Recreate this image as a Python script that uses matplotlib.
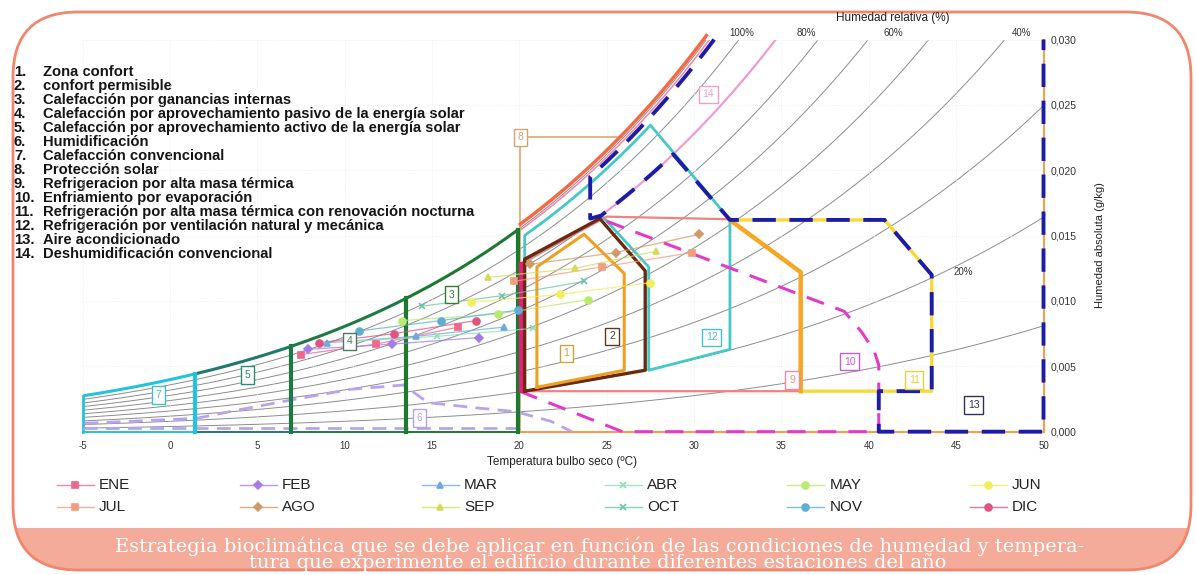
import numpy as np
import matplotlib.pyplot as plt
from matplotlib.patches import FancyBboxPatch, Rectangle
from matplotlib.ticker import FuncFormatter

plt.rcParams['font.family'] = ['Liberation Sans', 'DejaVu Sans']
plt.rcParams['axes.unicode_minus'] = False

P_ATM = 96.0      # presión atmosférica local (kPa)
W_MAX = 0.030

# Datos climáticos mensuales: puntos de mínima, media y máxima
months = ['ENE', 'FEB', 'MAR', 'ABR', 'MAY', 'JUN',
          'JUL', 'AGO', 'SEP', 'OCT', 'NOV', 'DIC']
t_min = [7.5, 7.9, 9.0, 10.3, 13.3, 17.2, 19.7, 20.6, 18.2, 14.4, 10.8, 8.5]
t_med = [11.8, 12.7, 14.1, 15.3, 18.8, 22.3, 24.7, 25.5, 23.2, 19.0, 15.5, 12.8]
t_max = [16.5, 17.7, 19.1, 20.8, 23.9, 27.5, 29.9, 30.3, 27.8, 23.7, 19.9, 17.5]
w_min = [0.0059, 0.0063, 0.0068, 0.0069, 0.0085, 0.0099, 0.0115, 0.0128, 0.0118, 0.0096, 0.0077, 0.0068]
w_med = [0.0067, 0.0067, 0.0073, 0.0073, 0.0090, 0.0105, 0.0126, 0.0137, 0.0125, 0.0104, 0.0085, 0.0075]
w_max = [0.0080, 0.0072, 0.0080, 0.0079, 0.0101, 0.0114, 0.0137, 0.0151, 0.0138, 0.0115, 0.0093, 0.0085]
month_colors = ['#f0668c', '#a57be8', '#6ea8e6', '#8ee0b4', '#bde86f', '#f2ee5c',
                '#f59c7c', '#d09a68', '#d2dc58', '#6cc4aa', '#5cb0d4', '#e05482']
month_markers = ['s', 'D', '^', 'x', 'o', 'o', 's', 'D', '^', 'x', 'o', 'o']

# Zonas del diagrama bioclimático (temperatura ºC, humedad absoluta kg/kg)
zone1_t = [21.0, 21.0, 23.7, 26.0, 26.0, 21.0]
zone1_w = [0.0034, 0.0126, 0.0151, 0.0121, 0.0047, 0.0034]
zone2_t = [20.3, 20.3, 24.6, 27.2, 27.2, 20.3]
zone2_w = [0.0031, 0.0132, 0.0163, 0.0123, 0.0047, 0.0031]
zone9_t = [20.1, 36.1, 36.1, 32.05, 25.0, 20.1, 20.1]
zone9_w = [0.0031, 0.0031, 0.0122, 0.01625, 0.01645, 0.0129, 0.0031]
zone11_t = [32.05, 40.9, 43.6, 43.6, 36.1]
zone11_w = [0.0162, 0.0162, 0.0120, 0.0031, 0.0031]
zone11_edge_t = [32.05, 36.1, 36.1]
zone11_edge_w = [0.0162, 0.0122, 0.0031]
zone12_t = [32.05, 32.05, 27.4, 27.4, 24.8, 20.3]
zone12_w = [0.0162, 0.0063, 0.0047, 0.0126, 0.0164, 0.0130]
zone12_peak_t = 27.5
zone10_t = [25.0, 38.6, 39.6, 40.3, 40.57, 40.57, 25.9, 20.0]
zone10_w = [0.0161, 0.0092, 0.0076, 0.0062, 0.0051, 0.0, 0.0, 0.0031]
zone13_t = [24.05, 24.6]
zone13_w = [0.0163, 0.0165]
zone13_rest_t = [32.05, 40.9, 43.6, 43.6, 40.57, 40.57, 50.0, 50.0]
zone13_rest_w = [0.0162, 0.0162, 0.0120, 0.0031, 0.0031, 0.0, 0.0, 0.030]
zone6_t = [-4.9, 1.5, 3.9, 6.9, 10.35, 13.36, 14.77, 17.7, 19.8, 21.8, 23.0]
zone6_w = [0.00064, 0.00102, 0.00166, 0.00242, 0.00324, 0.00357, 0.00222, 0.0018, 0.00153, 0.0008, 0.0]
heat_limits = [-5.0, 1.45, 6.95, 13.5, 19.9]
heat_colors = ['#22c3dc', '#1f7a6a', '#1e7a45', '#1b7a2e']

zone_ids = ['1', '2', '3', '4', '5', '6', '7', '8', '9', '10', '11', '12', '13', '14']
zone_lab_t = [22.7, 25.3, 16.1, 10.3, 4.45, 14.3, -0.65, 20.04, 35.6, 38.9, 42.6, 31.0, 46.0, 30.8]
zone_lab_w = [0.0060, 0.0073, 0.01048, 0.0069, 0.00434, 0.00105, 0.00281, 0.02253,
              0.00395, 0.00536, 0.00395, 0.00722, 0.00204, 0.0258]
zone_lab_colors = ['#c9a43a', '#5a3a20', '#2e7d32', '#4d7a5c', '#2a8a7a', '#b3a3e6', '#3cc0d0',
                   '#d9a070', '#f08a9a', '#c060d0', '#e6d040', '#45c3c3', '#303060', '#f0a0c8']

zone_names = ['Zona confort', 'confort permisible', 'Calefacción por ganancias internas',
              'Calefacción por aprovechamiento pasivo de la energía solar',
              'Calefacción por aprovechamiento activo de la energía solar',
              'Humidificación', 'Calefacción convencional', 'Protección solar',
              'Refrigeracion por alta masa térmica', 'Enfriamiento por evaporación',
              'Refrigeración por alta masa térmica con renovación nocturna',
              'Refrigeración por ventilación natural y mecánica',
              'Aire acondicionado', 'Deshumidificación convencional']

rh_levels = [0.1, 0.2, 0.3, 0.4, 0.5, 0.6, 0.7, 0.8, 0.9, 1.0]


def w_rh(t, rh):
    t = np.asarray(t, dtype=float)
    pws = 0.61078 * np.exp(17.27 * t / (t + 237.3))
    pw = rh * pws
    return 0.622 * pw / (P_ATM - pw)


def rh_curve(rh, t0, t1=50.0, n=150):
    t = np.linspace(t0, t1, n)
    w = w_rh(t, rh)
    if w[-1] > W_MAX:
        t_top = np.interp(W_MAX, w, t)
        t = np.linspace(t0, t_top, n)
        w = w_rh(t, rh)
    return t, w


fig = plt.figure(figsize=(11.96, 5.75), dpi=100)

# capa de fondo en píxeles para marco, textos y leyenda
bg = fig.add_axes([0, 0, 1, 1])
bg.set_xlim(0, 1196)
bg.set_ylim(575, 0)
bg.axis('off')
bg.set_zorder(0)

frame = FancyBboxPatch((13, 12), 1178, 558, boxstyle='round,pad=0,rounding_size=65',
                       fc='none', ec='#f2866c', lw=2.0, zorder=3)
band = FancyBboxPatch((13, 12), 1178, 558, boxstyle='round,pad=0,rounding_size=65',
                      fc='#f4ab99', ec='none', zorder=1)
bg.add_patch(band)
band.set_clip_path(Rectangle((0, 528), 1196, 48, transform=bg.transData))
bg.add_patch(frame)

bg.text(600, 546, 'Estrategia bioclimática que se debe aplicar en función de las condiciones '
        'de humedad y tempera-', ha='center', va='center', color='white',
        family='DejaVu Serif', fontsize=14, zorder=4)
bg.text(598, 563, 'tura que experimente el edificio durante diferentes estaciones del año',
        ha='center', va='center', color='white', family='DejaVu Serif', fontsize=14, zorder=4)

# lista de estrategias
for i, name in enumerate(zone_names):
    y = 72 + 14 * i
    bg.text(14, y, f'{i + 1}.', ha='left', va='center', fontsize=10.6,
            fontweight='bold', color='#151515')
    bg.text(43, y, name, ha='left', va='center', fontsize=10.6,
            fontweight='bold', color='#151515')

# rótulos de humedad relativa y ejes
bg.text(893, 18, 'Humedad relativa (%)', ha='center', va='center', fontsize=8.5, color='#222')
for lab, x in zip(['100%', '80%', '60%', '40%'], [742, 806, 893, 1022]):
    bg.text(x, 33, lab, ha='center', va='center', fontsize=7, color='#333')
bg.text(963, 272, '20%', ha='center', va='center', fontsize=7, color='#333')
bg.text(562, 462, 'Temperatura bulbo seco (ºC)', ha='center', va='center', fontsize=8.5, color='#222')
bg.text(1100, 245, 'Humedad absoluta (g/kg)', ha='center', va='center', rotation=90,
        fontsize=8, color='#222')

# leyenda mensual
for i, (m, c, mk) in enumerate(zip(months, month_colors, month_markers)):
    col, row = i % 6, i // 6
    x0 = 57 + 182.6 * col
    y = 485 + 21.7 * row
    bg.plot([x0, x0 + 37], [y, y], color=c, lw=1.0, alpha=0.8)
    bg.plot([x0 + 18], [y], marker=mk, color=c, ms=5 if mk != 'D' else 4, mew=1.2)
    bg.text(x0 + 42, y, m, ha='left', va='center', fontsize=11, color='#222')

# diagrama psicrométrico
ax = fig.add_axes([82.7 / 1196, 1 - 431.7 / 575, (1043.5 - 82.7) / 1196, (431.7 - 39.5) / 575])
ax.set_zorder(1)
ax.patch.set_visible(False)
ax.set_xlim(-5, 50)
ax.set_ylim(0, W_MAX)
for s in ax.spines.values():
    s.set_visible(False)
ax.set_xticks(np.arange(-5, 51, 5))
ax.set_yticks(np.arange(0, 0.0301, 0.005))
ax.yaxis.tick_right()
ax.yaxis.set_major_formatter(FuncFormatter(lambda v, p: f'{v:.3f}'.replace('.', ',')))
ax.tick_params(axis='x', length=0, labelsize=7, pad=7, labelcolor='#333')
ax.tick_params(axis='y', length=0, labelsize=7.5, pad=5, labelcolor='#333')
ax.grid(color='#ececec', lw=0.6, ls=':')

# curvas de humedad relativa
for rh in rh_levels:
    t, w = rh_curve(rh, -5.0)
    ax.plot(t, w, color='#8c8c8c', lw=0.7, zorder=1)

# zonas de calefacción (3, 4, 5, 7)
for k in range(4):
    t0, t1 = heat_limits[k], heat_limits[k + 1]
    t, w = rh_curve(1.0, t0, t1)
    ax.plot(t, w, color=heat_colors[k], lw=2.2, zorder=3, solid_capstyle='butt')
    ax.plot([t0, t1], [0, 0], color=heat_colors[k], lw=1.4, zorder=3, clip_on=False)
ax.plot([-5, -5], [0, w_rh(-5.0, 1.0)], color=heat_colors[0], lw=2.0, zorder=3, clip_on=False)
for k in range(1, 5):
    tk = heat_limits[k]
    ax.plot([tk, tk], [0, w_rh(tk, 1.0)], color=heat_colors[min(k, 3)] if k > 1 else heat_colors[0],
            lw=3.0, zorder=4, clip_on=False)

# zona 6: humidificación
ax.plot(zone6_t, zone6_w, color='#b9a3ea', lw=2.0, dashes=(5, 3), zorder=3)
ax.plot([-5, 20], [0.00025, 0.00025], color='#b9a3ea', lw=2.0, dashes=(5, 3), zorder=3, clip_on=False)

# zona 8: protección solar
t_sat, w_sat = rh_curve(1.0, 20.05)
ax.plot([20.04, 20.04], [0, zone_lab_w[7]], color='#e4a56a', lw=1.2, zorder=2, clip_on=False)
ax.plot([20.04, 25.85], [zone_lab_w[7], zone_lab_w[7]], color='#e4a56a', lw=1.2, zorder=2)
ax.plot([20, 50], [0, 0], color='#f0a050', lw=1.5, zorder=2, clip_on=False)
ax.plot([50, 50], [0, W_MAX], color='#f0a050', lw=1.5, zorder=2, clip_on=False)
ax.plot(t_sat, w_sat + 0.0003, color='#f26b45', lw=2.5, zorder=4, clip_on=False)
t98, w98 = rh_curve(0.99, 20.1)
ax.plot(t98, w98, color='#f08cb0', lw=1.2, zorder=4)

# zona 14: deshumidificación
t80, w80 = rh_curve(0.8, 24.6)
ax.plot(t80, w80, color='#f29ccc', lw=1.6, zorder=3)

# zona 12: ventilación
t95, w95 = rh_curve(0.95, zone12_t[-1], zone12_peak_t)
ax.plot(list(zone12_t) + list(t95) + [zone12_t[0]],
        list(zone12_w) + list(w95) + [zone12_w[0]], color='#45c8c8', lw=2.0, zorder=5)

# zona 9: masa térmica
ax.plot(zone9_t, zone9_w, color='#f08282', lw=1.6, zorder=5)

# zona 11: masa térmica con renovación nocturna
ax.plot(zone11_t, zone11_w, color='#f7d93a', lw=2.4, zorder=5)
ax.plot(zone11_edge_t, zone11_edge_w, color='#f5a623', lw=3.2, zorder=5)

# zona 10: enfriamiento evaporativo
ax.plot(zone10_t, zone10_w, color='#e03cc8', lw=2.2, dashes=(6, 4), zorder=6, clip_on=False)
ax.plot([20.1, 20.1], [0.0031, 0.0128], color='#e0207a', lw=3.0, zorder=6)

# zona 13: aire acondicionado
t_up, w_up = rh_curve(0.975, zone13_t[0])
t_mid, w_mid = rh_curve(0.8, zone13_t[1], 28.8)
z13_t = list(t_up[::-1]) + zone13_t + list(t_mid) + zone13_rest_t
z13_w = list(w_up[::-1]) + zone13_w + list(w_mid) + zone13_rest_w
ax.plot(z13_t, z13_w, color='#1c1ca8', lw=2.8, dashes=(6, 3.5), zorder=7, clip_on=False)

# zonas de confort
ax.plot(zone2_t, zone2_w, color='#6b2a10', lw=2.4, zorder=6)
ax.plot(zone1_t, zone1_w, color='#f0a020', lw=2.2, zorder=6)

# datos mensuales
for i in range(12):
    ts = [t_min[i], t_med[i], t_max[i]]
    ws = [w_min[i], w_med[i], w_max[i]]
    ms = 4 if month_markers[i] == 'D' else 5
    ax.plot(ts, ws, color=month_colors[i], lw=0.9, alpha=0.75, zorder=8)
    ax.plot(ts, ws, ls='none', marker=month_markers[i], color=month_colors[i],
            ms=ms, mew=1.2, zorder=9)

# etiquetas de zona
for zid, t, w, c in zip(zone_ids, zone_lab_t, zone_lab_w, zone_lab_colors):
    ax.text(t, w, zid, ha='center', va='center', fontsize=7.5, color=c, zorder=10,
            bbox=dict(boxstyle='square,pad=0.35', fc='white', ec=c, lw=1.0))

fig.savefig('out.png', dpi=100)
